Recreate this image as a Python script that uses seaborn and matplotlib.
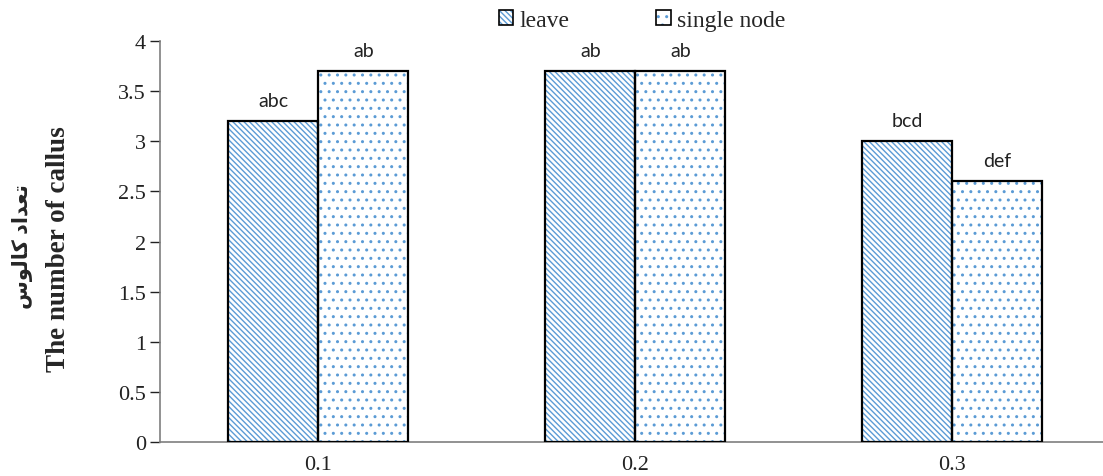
import pandas as pd
import seaborn as sns
import matplotlib.pyplot as plt
from matplotlib.patches import Patch, Rectangle

# ----------------- data

concentrations = ["0.1", "0.2", "0.3"]
explants = ["leave", "single node"]
leave_values = [3.2, 3.7, 3.0]
node_values = [3.7, 3.7, 2.6]
leave_letters = ["abc", "ab", "bcd"]
node_letters = ["ab", "ab", "def"]

y_ticks = [0, 0.5, 1, 1.5, 2, 2.5, 3, 3.5, 4]
# "تعداد کالوس" written in shaped presentation forms (visual order)
fa_label = "\uFEB1\uFEEE\uFEDF\uFE8E\uFB90 \uFEA9\uFE8D\uFEAA\uFECC\uFE97"
en_label = "The number of callus"

BLUE = "#5B9BD5"
HATCHES = ["\\\\\\\\\\\\", ".."]

df = pd.DataFrame({
    "conc": concentrations * 2,
    "explant": [explants[0]] * 3 + [explants[1]] * 3,
    "value": leave_values + node_values,
    "letter": leave_letters + node_letters,
})

# ------------------- plot

sns.set_style("white")
plt.rcParams["hatch.linewidth"] = 1.0

fig = plt.figure(figsize=(11.03, 4.77), dpi=100)
ax = fig.add_axes([0.145, 0.071, 0.855, 0.841])

sns.barplot(data=df, x="conc", y="value", hue="explant", order=concentrations,
            hue_order=explants, palette=["white", "white"], width=0.568,
            errorbar=None, legend=False, ax=ax)

bars = list(ax.patches)
for i, p in enumerate(bars):
    p.set_hatch(HATCHES[i // 3])
    p.set_edgecolor(BLUE)
    p.set_linewidth(0)
    ax.add_patch(Rectangle(p.get_xy(), p.get_width(), p.get_height(),
                           fill=False, edgecolor="black", linewidth=1.6, zorder=3))

for p, letter in zip(bars, df["letter"]):
    ax.annotate(letter, (p.get_x() + p.get_width() / 2, p.get_height()),
                xytext=(0, 9), textcoords="offset points", ha="center", va="bottom",
                fontsize=14, family="Lato", color="#222222")

ax.set_ylim(0, 4)
ax.set_yticks(y_ticks)
ax.set_yticklabels([f"{t:g}" for t in y_ticks], family="Liberation Serif", fontsize=16)
ax.set_xlim(-0.5, 2.475)
ax.set_xticks(range(len(concentrations)))
ax.set_xticklabels(concentrations, family="Liberation Serif", fontsize=16)
ax.set_xticks([0.5, 1.5], minor=True)
ax.tick_params(axis="x", which="major", length=0, pad=9)
ax.tick_params(axis="x", which="minor", length=7, direction="out", color="#7f7f7f", width=1)
ax.tick_params(axis="y", length=7, direction="out", color="#7f7f7f", width=1, pad=3, left=True)
ax.tick_params(colors="#222222", which="major")

for side in ["top", "right"]:
    ax.spines[side].set_visible(False)
for side in ["left", "bottom"]:
    ax.spines[side].set_color("#7f7f7f")
    ax.spines[side].set_linewidth(1.2)

ax.set_xlabel("")
ax.set_ylabel("")
fig.text(0.020, 0.482, fa_label, rotation=90, ha="center", va="center",
         family=["Liberation Serif", "DejaVu Sans"], fontweight="bold", fontsize=15)
fig.text(0.053, 0.478, en_label, rotation=90, ha="center", va="center",
         family="Liberation Serif", fontweight="bold", fontsize=19.5)

handles = []
for h in HATCHES:
    inner = Patch(facecolor="white", edgecolor=BLUE, hatch=h, linewidth=0)
    outer = Patch(facecolor="none", edgecolor="black", linewidth=1.2)
    handles.append((inner, outer))
fig.legend(handles, explants, loc="center", bbox_to_anchor=(0.582, 0.955), ncol=2,
           frameon=False, prop={"family": "Liberation Serif", "size": 17},
           handlelength=0.6, handleheight=0.6, handletextpad=0.25, columnspacing=3.7)

fig.savefig("out.png", dpi=100)
